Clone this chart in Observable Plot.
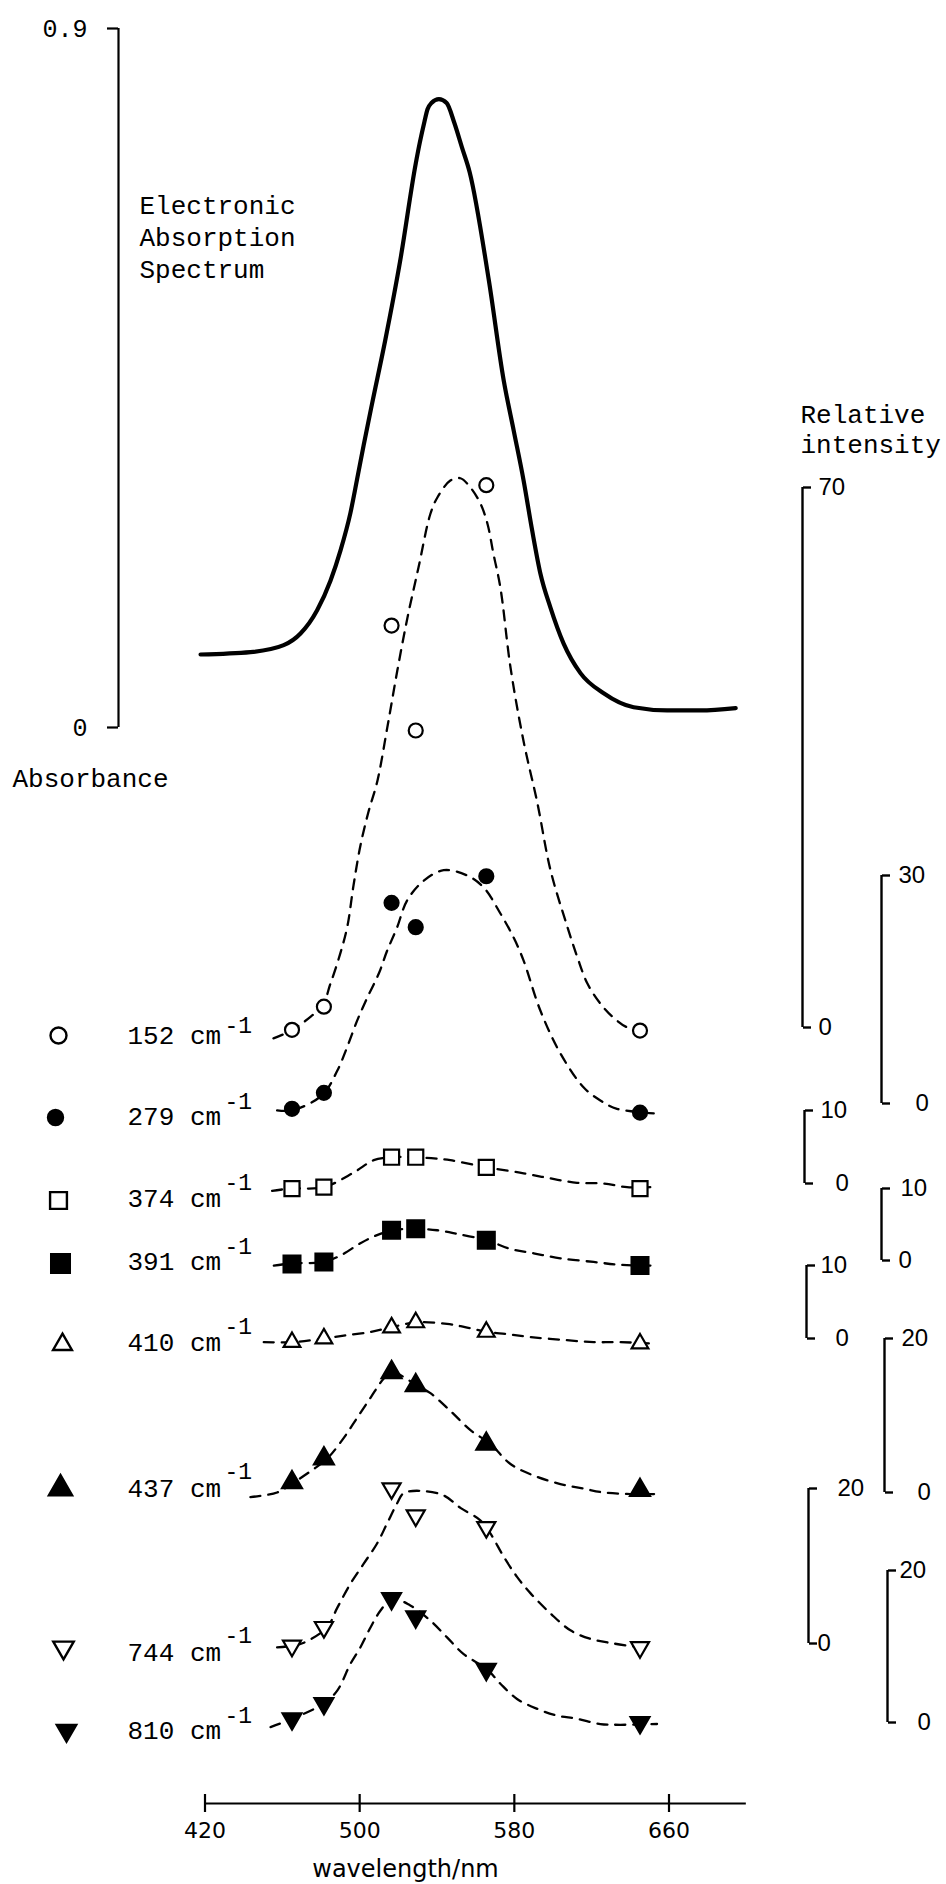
<!DOCTYPE html>
<html>
<head>
<meta charset="utf-8">
<script src="https://cdn.jsdelivr.net/npm/d3@7"></script>
<script src="https://cdn.jsdelivr.net/npm/@observablehq/plot@0.6"></script>
<style>
html,body{margin:0;padding:0;background:#fff;}
#chart{position:relative;width:946px;height:1884px;overflow:hidden;background:#fff;}
#chart > svg{position:absolute;left:0;top:0;background:none;}
</style>
</head>
<body>
<div id="chart"></div>
<script>
// ================= DATA =================
const wavelengthTicks = [420, 500, 580, 660];
const absorbanceTicks = [0, 0.9];

// electronic absorption spectrum (solid curve)
const absWavelength = [417.7, 443.5, 460.7, 469.4, 478.0, 484.9, 490.1, 495.2, 498.7, 502.1, 506.5, 513.1, 521.1, 529.0, 531.1, 533.5, 535.1, 537.1, 541.0, 545.0, 548.9, 552.9, 556.9, 566.8, 574.5, 579.7, 584.8, 589.2, 593.5, 598.6, 605.5, 614.2, 626.2, 641.7, 659.0, 676.2, 694.5];
const absorbance    = [0.094, 0.097, 0.106, 0.121, 0.151, 0.189, 0.228, 0.276, 0.320, 0.364, 0.418, 0.497, 0.603, 0.726, 0.753, 0.780, 0.796, 0.804, 0.809, 0.804, 0.779, 0.747, 0.715, 0.576, 0.447, 0.382, 0.318, 0.254, 0.198, 0.155, 0.108, 0.070, 0.044, 0.026, 0.022, 0.022, 0.025];

// excitation wavelengths (nm) of the measured Raman points
const excitation = [465, 481.5, 516.5, 529, 565.5, 645];
const shifts = ["152", "279", "374", "391", "410", "437", "744", "810"];
const axisMax = [70, 30, 10, 10, 10, 20, 20, 20];

// relative intensities at each excitation wavelength
const int152 = [-0.3, 2.7, 52.1, 38.5, 70.3, -0.4];
const int279 = [-0.7, 1.4, 26.4, 23.2, 29.9, -1.2];
const int374 = [-0.7, -0.5, 3.6, 3.6, 2.2, -0.7];
const int391 = [-0.5, -0.2, 4.2, 4.4, 2.8, -0.7];
const int410 = [-0.5, 0.0, 1.5, 2.2, 0.9, -0.7];
const int437 = [1.3, 4.4, 15.6, 13.9, 6.3, 0.3];
const int744 = [-0.3, 2.1, 20.0, 16.5, 15.0, -0.5];
const int810 = [0.5, 2.5, 16.3, 13.9, 7.0, 0.0];

// hand-drawn dashed profiles (wavelength, relative intensity)
const fit152W = [455.4, 465.1, 480.6, 484.9, 490.1, 493.7, 496.8, 500.4, 504.5, 509.2, 514.3, 519.5, 524.7, 530.4, 536.6, 540.2, 546.9, 552.1, 557.3, 562.5, 566.1, 569.2, 572.8, 578.0, 584.7, 592.0, 598.7, 607.5, 612.6, 617.8, 624.5, 631.2, 638.5, 647.8];
const fit152V = [-1.4, -0.3, 2.9, 5.7, 9.7, 13.2, 18.4, 23.6, 27.9, 32.0, 38.9, 46.3, 53.1, 59.6, 66.6, 68.7, 70.9, 71.2, 70.0, 67.9, 65.3, 61.4, 57.0, 46.7, 37.2, 29.0, 20.4, 13.0, 9.1, 5.7, 3.1, 1.3, 0.0, -0.5];
const fit279W = [457.3, 465.1, 480.6, 488.4, 493.5, 498.7, 503.9, 509.9, 514.2, 519.4, 524.5, 533.1, 543.5, 555.6, 564.2, 572.8, 579.7, 584.8, 593.5, 603.8, 615.9, 624.5, 633.1, 652.1];
const fit279V = [-0.9, -0.9, 1.1, 4.3, 7.4, 10.9, 13.9, 17.1, 20.1, 23.2, 26.7, 29.3, 30.7, 30.0, 28.4, 25.0, 21.8, 18.8, 12.2, 6.6, 2.1, 0.4, -0.7, -1.3];
const fit374W = [454.7, 464.2, 481.4, 496.9, 507.3, 516.8, 528.8, 540.1, 546.9, 565.9, 584.8, 598.6, 612.4, 626.2, 638.3, 650.4];
const fit374V = [-1.0, -0.7, -0.5, 1.5, 3.2, 3.6, 3.6, 3.4, 3.2, 2.2, 1.4, 0.7, 0.1, 0.0, -0.5, -0.5];
const fit391W = [455.6, 465.1, 481.4, 490.1, 500.4, 507.0, 516.8, 529.7, 540.1, 550.4, 565.9, 578.0, 590.0, 603.8, 621.0, 634.8, 650.4];
const fit391V = [-0.7, -0.4, -0.2, 0.7, 2.4, 3.3, 4.2, 4.4, 4.2, 3.7, 2.8, 1.6, 1.0, 0.3, -0.2, -0.6, -0.7];
const fit410W = [450.4, 465.1, 481.4, 491.8, 505.6, 515.9, 528.8, 545.2, 555.6, 565.9, 576.3, 588.3, 605.5, 621.0, 634.8, 652.1];
const fit410V = [-0.5, -0.5, 0.0, 0.4, 0.9, 1.5, 2.2, 2.0, 1.5, 0.9, 0.6, 0.2, -0.2, -0.5, -0.5, -0.7];
const fit437W = [443.5, 457.3, 465.9, 475.4, 483.2, 491.8, 498.7, 505.6, 512.5, 516.8, 529.7, 536.6, 546.9, 557.3, 567.6, 578.0, 590.0, 603.8, 615.9, 626.2, 640.0, 655.5];
const fit437V = [-0.6, 0.0, 1.3, 2.9, 4.4, 7.1, 9.7, 12.3, 14.8, 15.6, 13.9, 12.9, 10.6, 8.1, 6.3, 3.7, 2.2, 1.1, 0.5, 0.0, -0.2, -0.2];
const fit744W = [457.3, 465.1, 471.1, 483.2, 488.4, 495.2, 502.1, 509.0, 514.2, 519.4, 522.8, 531.4, 543.5, 552.1, 562.4, 567.6, 574.5, 581.4, 588.3, 598.6, 609.0, 619.3, 631.4, 645.2];
const fit744V = [-0.5, -0.3, 0.1, 2.1, 4.6, 7.7, 10.3, 12.9, 15.5, 18.1, 19.4, 19.7, 19.1, 17.5, 15.9, 14.2, 11.2, 8.6, 6.5, 3.9, 1.7, 0.6, 0.0, -0.5];
const fit810W = [453.9, 465.1, 481.4, 488.4, 495.2, 500.4, 505.6, 510.7, 516.8, 526.2, 536.6, 545.2, 553.8, 565.9, 572.8, 581.4, 591.8, 602.1, 612.4, 624.5, 634.8, 653.8];
const fit810V = [-0.6, 0.5, 2.5, 4.2, 7.7, 9.9, 12.5, 14.7, 16.3, 15.4, 13.4, 11.2, 9.0, 7.0, 5.1, 3.1, 1.8, 0.9, 0.5, -0.2, -0.3, -0.2];

// ================= LAYOUT / STYLE =================
const W = 946, H = 1884;
const X_DOMAIN = [420, 660], X_RANGE = [204.5, 668.5];
const xPx = d3.scaleLinear(X_DOMAIN, X_RANGE);
const MONO = "'Liberation Mono', 'DejaVu Sans Mono', monospace";
const SANS = "'Liberation Sans', Arial, sans-serif";

const triangleDown = {
  draw(context, size) {
    const y = -Math.sqrt(size / (Math.sqrt(3) * 3));
    context.moveTo(0, -y * 2);
    context.lineTo(-Math.sqrt(3) * y, y);
    context.lineTo(Math.sqrt(3) * y, y);
    context.closePath();
  }
};

const seriesValues = [int152, int279, int374, int391, int410, int437, int744, int810];
const fitW = [fit152W, fit279W, fit374W, fit391W, fit410W, fit437W, fit744W, fit810W];
const fitV = [fit152V, fit279V, fit374V, fit391V, fit410V, fit437V, fit744V, fit810V];

const marker = [
  {symbol: "circle", filled: false, r: 7, lr: 8},
  {symbol: "circle", filled: true, r: 7, lr: 7.5},
  {symbol: "square", filled: false, r: 8.5, lr: 9.5},
  {symbol: "square", filled: true, r: 9.5, lr: 10.5},
  {symbol: "triangle", filled: false, r: 6.2, lr: 7},
  {symbol: "triangle", filled: true, r: 7.4, lr: 8.6},
  {symbol: triangleDown, filled: false, r: 6.7, lr: 7.6},
  {symbol: triangleDown, filled: true, r: 7, lr: 7.2}
];

// pixel position of each series' own intensity axis
const seriesLayout = [
  {y0: 1027, y1: 487, axis: 802, padTop: 8, pad0: 8},
  {y0: 1103, y1: 875, axis: 881, padTop: 9, pad0: 26},
  {y0: 1183, y1: 1110, axis: 804, padTop: 8, pad0: 23},
  {y0: 1260, y1: 1188, axis: 881, padTop: 11, pad0: 9},
  {y0: 1338, y1: 1265, axis: 806, padTop: 6, pad0: 21},
  {y0: 1492, y1: 1338, axis: 884, padTop: 9, pad0: 25},
  {y0: 1643, y1: 1488, axis: 808, padTop: 21, pad0: 1},
  {y0: 1722, y1: 1570, axis: 887, padTop: 4, pad0: 22}
];

const legendLayout = [
  {sx: 58, sy: 1035, base: 1043, sup: 1032},
  {sx: 55, sy: 1117, base: 1124, sup: 1108},
  {sx: 58, sy: 1200, base: 1206, sup: 1189},
  {sx: 60, sy: 1263, base: 1269, sup: 1253},
  {sx: 62, sy: 1344, base: 1350, sup: 1333},
  {sx: 60, sy: 1488, base: 1496, sup: 1478},
  {sx: 63, sy: 1647, base: 1660, sup: 1642},
  {sx: 66, sy: 1730, base: 1738, sup: 1722}
];

const annotations = [
  {t: "Electronic", x: 139, y: 213},
  {t: "Absorption", x: 139, y: 245},
  {t: "Spectrum", x: 139, y: 277},
  {t: "Absorbance", x: 12, y: 786},
  {t: "Relative", x: 800, y: 422},
  {t: "intensity", x: 800, y: 452}
];

// ================= RENDER =================
const chart = document.getElementById("chart");
function mount(svg) {
  svg.style.position = "absolute";
  svg.style.left = "0px";
  svg.style.top = "0px";
  svg.style.background = "none";
  chart.append(svg);
}

// electronic absorption spectrum with its absorbance axis
mount(Plot.plot({
  width: W, height: H,
  marginLeft: 118, marginRight: 0, marginTop: 0, marginBottom: 0,
  style: {background: "none", fontFamily: MONO, fontSize: "25px", color: "black"},
  x: {domain: X_DOMAIN, range: X_RANGE, axis: null},
  y: {domain: [0, 0.9], range: [727, 28], label: null},
  marks: [
    Plot.ruleX([xPx.invert(118)], {y1: 0, y2: 0.9, stroke: "black", strokeWidth: 2.2}),
    Plot.axisY({anchor: "left", ticks: absorbanceTicks, tickSize: 11, tickPadding: 20, strokeWidth: 2.2, label: null, tickFormat: d => String(d)}),
    Plot.line(absWavelength.map((w, i) => ({w, a: absorbance[i]})), {x: "w", y: "a", curve: "monotone-x", stroke: "black", strokeWidth: 4.2, strokeLinecap: "round", strokeLinejoin: "round"})
  ]
}));

// Raman excitation profiles, each on its own relative intensity axis
shifts.forEach((shift, i) => {
  const L = seriesLayout[i], M = marker[i], top = axisMax[i];
  const pts = excitation.map((w, j) => ({w, v: seriesValues[i][j]}));
  const fit = fitW[i].map((w, j) => ({w, v: fitV[i][j]}));
  mount(Plot.plot({
    width: W, height: H,
    marginLeft: 0, marginRight: W - L.axis, marginTop: 0, marginBottom: 0,
    style: {background: "none", fontFamily: SANS, fontSize: "24px", color: "black"},
    x: {domain: X_DOMAIN, range: X_RANGE, axis: null},
    y: {domain: [0, top], range: [L.y0, L.y1], label: null},
    marks: [
      Plot.line(fit, {x: "w", y: "v", curve: "catmull-rom", stroke: "black", strokeWidth: 2.3, strokeDasharray: "10,8"}),
      Plot.dot(pts, {x: "w", y: "v", symbol: M.symbol, r: M.r, fill: M.filled ? "black" : "white", stroke: "black", strokeWidth: 2.2}),
      Plot.ruleX([xPx.invert(L.axis)], {y1: 0, y2: top, stroke: "black", strokeWidth: 2.4}),
      Plot.axisY({anchor: "right", ticks: [top], tickSize: 8, tickPadding: L.padTop, strokeWidth: 2.4, label: null, tickFormat: d => String(d)}),
      Plot.axisY({anchor: "right", ticks: [0], tickSize: 8, tickPadding: L.pad0, strokeWidth: 2.4, label: null, tickFormat: d => String(d)})
    ]
  }));
});

// wavelength axis
mount(Plot.plot({
  width: W, height: H,
  marginLeft: 0, marginRight: 0, marginTop: 0, marginBottom: H - 1803,
  style: {background: "none", fontFamily: "'DejaVu Sans', sans-serif", fontSize: "22px", color: "black"},
  x: {domain: X_DOMAIN, range: X_RANGE, label: null},
  y: {domain: [-1, 1], range: [1812, 1794], axis: null},
  marks: [
    Plot.ruleY([0], {x1: 420, x2: 700, stroke: "black", strokeWidth: 2.2}),
    Plot.ruleX(wavelengthTicks, {y1: -1, y2: 1, stroke: "black", strokeWidth: 2.2}),
    Plot.axisX({anchor: "bottom", ticks: wavelengthTicks, tickSize: 0, tickPadding: 19, label: null, tickFormat: d => String(d)})
  ]
}));

// annotations and legend
mount(Plot.plot({
  width: W, height: H,
  margin: 0,
  style: {background: "none", color: "black"},
  x: {type: "identity", axis: null},
  y: {type: "identity", axis: null},
  marks: [
    Plot.text(annotations, {x: "x", y: "y", text: "t", textAnchor: "start", lineAnchor: "bottom", fontFamily: MONO, fontSize: 26, fill: "black"}),
    Plot.text(["wavelength/nm"], {x: 405, y: 1876, text: d => d, textAnchor: "middle", lineAnchor: "bottom", fontFamily: "'DejaVu Sans', sans-serif", fontSize: 24, fill: "black"}),
    ...shifts.map((shift, i) => Plot.dot([legendLayout[i]], {x: "sx", y: "sy", symbol: marker[i].symbol, r: marker[i].lr, fill: marker[i].filled ? "black" : "white", stroke: "black", strokeWidth: 2.4})),
    Plot.text(shifts.map((s, i) => ({t: s + " cm", x: 127, y: legendLayout[i].base})), {x: "x", y: "y", text: "t", textAnchor: "start", lineAnchor: "bottom", fontFamily: MONO, fontSize: 26, fill: "black"}),
    Plot.text(shifts.map((s, i) => ({t: "-1", x: 224, y: legendLayout[i].sup})), {x: "x", y: "y", text: "t", textAnchor: "start", lineAnchor: "bottom", fontFamily: MONO, fontSize: 23, fill: "black"})
  ]
}));
</script>
</body>
</html>
